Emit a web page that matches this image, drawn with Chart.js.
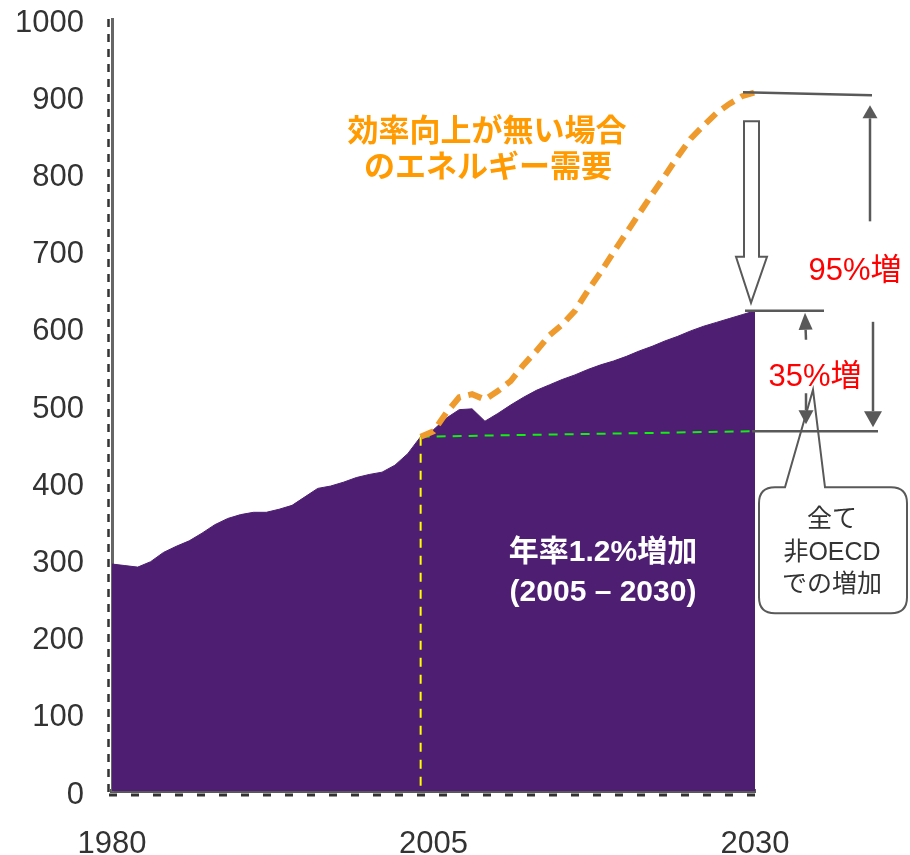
<!DOCTYPE html>
<html>
<head>
<meta charset="utf-8">
<script src="https://cdn.jsdelivr.net/npm/chart.js@4.4.1/dist/chart.umd.min.js"></script>
<style>
  html, body { margin: 0; padding: 0; background: #ffffff; }
  #wrap { width: 910px; height: 855px; position: relative; }
</style>
</head>
<body>
<div id="wrap"><canvas id="c" width="910" height="855"></canvas></div>
<script>
// ---------------- DATA ----------------
const years = [1980,1981,1982,1983,1984,1985,1986,1987,1988,1989,
               1990,1991,1992,1993,1994,1995,1996,1997,1998,1999,
               2000,2001,2002,2003,2004,2005,2006,2007,2008,2009,
               2010,2011,2012,2013,2014,2015,2016,2017,2018,2019,
               2020,2021,2022,2023,2024,2025,2026,2027,2028,2029,2030];
const energyDemand = [294,292,290,297,309,317,324,334,345,353,
                      358,361,361,365,370,381,392,395,400,406,
                      410,413,422,437,459,468,483,494,495,479,
                      489,500,510,519,526,533,539,546,552,557,
                      563,570,576,583,589,596,602,607,612,617,622];
const noEfficiencyYears = [2004,2005,2006,2007,2008,2009,2010,2011,2012,2013,
                           2014,2015,2016,2017,2018,2019,2020,2021,2022,2023,
                           2024,2025,2026,2027,2028,2029,2030];
const noEfficiencyDemand = [459,466,490,510,514,507,518,531,552,570,
                            590,604,622,648,672,698,723,748,773,797,
                            822,845,862,878,890,900,905];
const baselineYears = [2004, 2030];
const baselineLevel = [459, 466];
const markerYears = [2004, 2004];
const markerLevels = [459, 0];
const xTickYears = [1980, 2005, 2030];
const yTickValues = [0,100,200,300,400,500,600,700,800,900,1000];

const labelNoEff = ['効率向上が無い場合', 'のエネルギー需要'];
const labelGrowth = ['年率1.2%増加', '(2005 – 2030)'];
const label95 = '95%増';
const label35 = '35%増';
const labelCallout = ['全て', '非OECD', 'での増加'];

// ---------------- STYLE ----------------
const FONT = '"Liberation Sans", "Noto Sans CJK JP", Arial, sans-serif';
const PURPLE = '#4D1E72';
const ORANGE_LINE = '#EE9A2C';
const ORANGE_TEXT = '#FF9A00';
const GRAY = '#595959';

const toPts = (xs, ys) => xs.map((v, i) => ({ x: v, y: ys[i] }));

const overlay = {
  id: 'overlay',
  afterDraw(chart) {
    const { ctx } = chart;
    const xs = chart.scales.x, ys = chart.scales.y;
    ctx.save();
    // axis dash artifacts
    ctx.strokeStyle = '#333';
    ctx.lineWidth = 2.5;
    ctx.setLineDash([8, 7]);
    ctx.beginPath();
    ctx.moveTo(xs.left - 3.5, ys.top);
    ctx.lineTo(xs.left - 3.5, ys.bottom + 5);
    ctx.stroke();
    ctx.lineWidth = 3;
    ctx.setLineDash([8, 14]);
    ctx.beginPath();
    ctx.moveTo(xs.left - 3, ys.bottom + 4);
    ctx.lineTo(xs.right, ys.bottom + 4);
    ctx.stroke();
    ctx.setLineDash([]);

    const xe = xs.getPixelForValue(years[years.length - 1]);
    const yO = ys.getPixelForValue(noEfficiencyDemand[noEfficiencyDemand.length - 1]);
    const yP = ys.getPixelForValue(energyDemand[energyDemand.length - 1]);
    const yB = ys.getPixelForValue(baselineLevel[baselineLevel.length - 1]);

    ctx.strokeStyle = GRAY;
    ctx.fillStyle = GRAY;
    ctx.lineWidth = 2.5;
    const line = (x1, y1, x2, y2) => { ctx.beginPath(); ctx.moveTo(x1, y1); ctx.lineTo(x2, y2); ctx.stroke(); };
    const arrow = (x1, y1, x2, y2, hl, hw) => {
      const a = Math.atan2(y2 - y1, x2 - x1);
      const bx = x2 - hl * Math.cos(a), by = y2 - hl * Math.sin(a);
      line(x1, y1, bx, by);
      ctx.beginPath();
      ctx.moveTo(x2, y2);
      ctx.lineTo(bx + (hw / 2) * Math.sin(a), by - (hw / 2) * Math.cos(a));
      ctx.lineTo(bx - (hw / 2) * Math.sin(a), by + (hw / 2) * Math.cos(a));
      ctx.closePath();
      ctx.fill();
    };

    // reference lines
    line(xe - 12, yO, xe + 117, yO + 3);
    line(xe - 10, yP, xe + 69, yP);
    line(xe - 3, yB, xe + 123, yB);

    // hollow down arrow
    ctx.lineWidth = 2;
    ctx.beginPath();
    ctx.moveTo(xe - 11, yO + 29);
    ctx.lineTo(xe + 4, yO + 29);
    ctx.lineTo(xe + 4, yP - 54);
    ctx.lineTo(xe + 12, yP - 54);
    ctx.lineTo(xe - 4, yP - 8);
    ctx.lineTo(xe - 19, yP - 54);
    ctx.lineTo(xe - 11, yP - 54);
    ctx.closePath();
    ctx.fillStyle = '#ffffff';
    ctx.fill();
    ctx.stroke();
    ctx.fillStyle = GRAY;

    // callout
    ctx.lineWidth = 2;
    const bx1 = xe + 4, by1 = yB + 56, bx2 = 907, by2 = yB + 182, r = 16;
    ctx.beginPath();
    ctx.moveTo(xe + 30, by1);
    ctx.lineTo(xe + 58, yP + 79);
    ctx.lineTo(xe + 70, by1);
    ctx.lineTo(bx2 - r, by1);
    ctx.quadraticCurveTo(bx2, by1, bx2, by1 + r);
    ctx.lineTo(bx2, by2 - r);
    ctx.quadraticCurveTo(bx2, by2, bx2 - r, by2);
    ctx.lineTo(bx1 + r, by2);
    ctx.quadraticCurveTo(bx1, by2, bx1, by2 - r);
    ctx.lineTo(bx1, by1 + r);
    ctx.quadraticCurveTo(bx1, by1, bx1 + r, by1);
    ctx.closePath();
    ctx.stroke();

    // arrows
    ctx.lineWidth = 2.5;
    arrow(xe + 51, yP + 29, xe + 50, yP + 2, 17, 14);
    arrow(xe + 51, yB - 38, xe + 51, yB - 7, 14, 15);
    arrow(xe + 115, yO + 129, xe + 115, yO + 13, 13, 15);
    arrow(xe + 118, yP + 11, xe + 118, yB - 4, 16, 18);

    // texts
    ctx.textAlign = 'center';
    ctx.textBaseline = 'middle';
    ctx.fillStyle = '#FF0000';
    ctx.font = '31px ' + FONT;
    ctx.fillText(label95, xe + 100, yO + 179);
    ctx.fillText(label35, xe + 60, yP + 67);

    ctx.fillStyle = '#333333';
    ctx.font = '25px ' + FONT;
    labelCallout.forEach((t, i) => ctx.fillText(t, xe + 77, yB + 89 + i * 32.5));

    ctx.fillStyle = ORANGE_TEXT;
    ctx.font = 'bold 31px ' + FONT;
    ctx.fillText(labelNoEff[0], 487, 132);
    ctx.fillText(labelNoEff[1], 488, 168);

    ctx.fillStyle = '#ffffff';
    ctx.font = 'bold 30px ' + FONT;
    ctx.fillText(labelGrowth[0], 603, 553);
    ctx.fillText(labelGrowth[1], 603, 593);
    ctx.restore();
  }
};

new Chart(document.getElementById('c'), {
  type: 'line',
  data: {
    datasets: [
      {
        label: 'no-efficiency',
        data: toPts(noEfficiencyYears, noEfficiencyDemand),
        borderColor: ORANGE_LINE, borderWidth: 6, borderDash: [14, 8],
        pointRadius: 0, fill: false, tension: 0, order: 0
      },
      {
        label: 'baseline',
        data: toPts(baselineYears, baselineLevel),
        borderColor: '#11F011', borderWidth: 2, borderDash: [9, 7],
        pointRadius: 0, fill: false, order: 1
      },
      {
        label: 'marker',
        data: toPts(markerYears, markerLevels),
        borderColor: '#FFFF00', borderWidth: 2, borderDash: [9, 8],
        pointRadius: 0, fill: false, order: 2
      },
      {
        label: 'demand',
        data: toPts(years, energyDemand),
        borderColor: PURPLE, borderWidth: 1, backgroundColor: PURPLE,
        pointRadius: 0, fill: 'origin', tension: 0, order: 3
      }
    ]
  },
  options: {
    responsive: false,
    animation: false,
    layout: { padding: { top: 19, right: 155, left: 0, bottom: 0 } },
    plugins: { legend: { display: false }, tooltip: { enabled: false } },
    scales: {
      x: {
        type: 'linear', min: 1980, max: 2030,
        afterBuildTicks: s => { s.ticks = xTickYears.map(v => ({ value: v })); },
        afterFit: s => { s.height = 64; s.paddingLeft = 0; s.paddingRight = 0; },
        grid: { display: false, drawTicks: false },
        border: { display: true, color: GRAY, width: 4 },
        ticks: { color: '#333', font: { family: FONT, size: 31 }, padding: 35,
                 maxRotation: 0, autoSkip: false, callback: v => String(v) }
      },
      y: {
        min: 0, max: 1000,
        afterBuildTicks: s => { s.ticks = yTickValues.map(v => ({ value: v })); },
        afterFit: s => { s.width = 112; s.paddingTop = 0; s.paddingBottom = 0; },
        grid: { display: false, drawTicks: false },
        border: { display: true, color: '#666', width: 3 },
        ticks: { color: '#333', font: { family: FONT, size: 31 }, padding: 28,
                 labelOffset: 4, autoSkip: false, callback: v => String(v) }
      }
    }
  },
  plugins: [overlay]
});
</script>
</body>
</html>
